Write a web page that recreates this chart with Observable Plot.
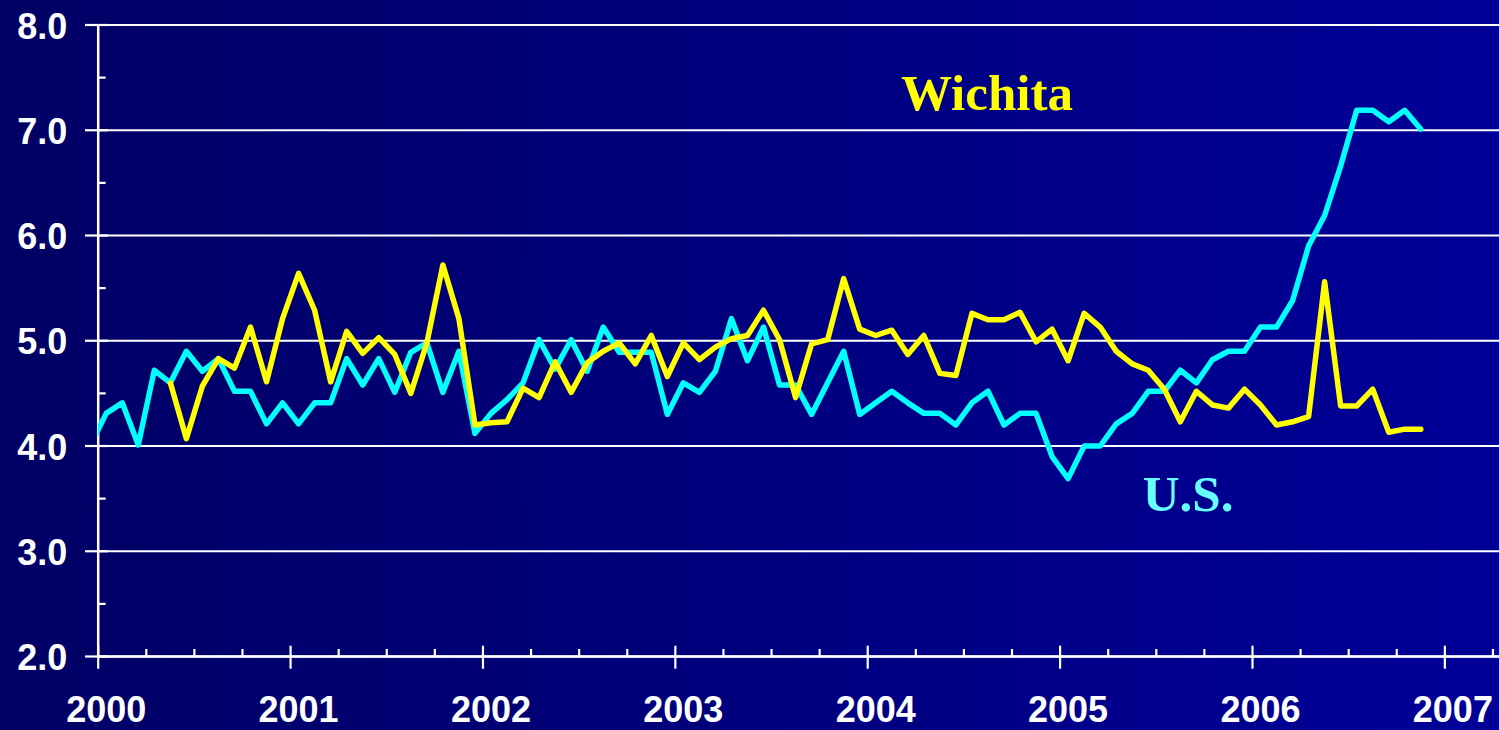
<!DOCTYPE html>
<html><head><meta charset="utf-8">
<script src="https://cdn.jsdelivr.net/npm/d3@7"></script>
<script src="https://cdn.jsdelivr.net/npm/@observablehq/plot@0.6"></script>
<style>
html,body{margin:0;padding:0;}
body{width:1499px;height:730px;overflow:hidden;background:linear-gradient(to right,#000064,#000098);}
#chart svg{display:block;}
</style></head><body><div id="chart"></div>
<script>
// Monthly series
const usFirst = {year: 1999, month: 11};      // Dec 1999 (0-based month)
const usValues = [4.00,
  4.31,4.41,4.01,4.72,4.60,4.90,4.71,4.83,4.52,4.52,4.21,4.41,
  4.21,4.41,4.41,4.83,4.58,4.83,4.51,4.89,4.98,4.51,4.90,4.12,
  4.31,4.44,4.60,5.01,4.73,5.01,4.71,5.13,4.89,4.89,4.89,4.30,
  4.60,4.51,4.71,5.21,4.81,5.13,4.58,4.58,4.30,4.60,4.90,4.30,
  4.41,4.52,4.41,4.31,4.31,4.20,4.41,4.52,4.20,4.31,4.31,3.90,
  3.69,4.00,4.00,4.21,4.31,4.52,4.52,4.72,4.60,4.82,4.90,4.90,
  5.13,5.13,5.38,5.90,6.19,6.66,7.19,7.19,7.08,7.19,7.01];
const wichitaFirst = {year: 2000, month: 4};  // May 2000
const wichitaValues = [4.60,4.07,4.57,4.83,4.74,5.13,4.61,5.21,
  5.64,5.29,4.61,5.09,4.88,5.03,4.87,4.50,4.98,5.72,5.21,4.20,
  4.22,4.23,4.55,4.46,4.80,4.51,4.79,4.90,4.98,4.78,5.05,4.66,
  4.98,4.82,4.94,5.02,5.05,5.29,5.01,4.46,4.97,5.01,5.59,5.11,
  5.05,5.10,4.87,5.05,4.69,4.67,5.26,5.20,5.20,5.27,4.99,5.11,
  4.81,5.26,5.13,4.90,4.78,4.72,4.54,4.23,4.52,4.39,4.36,4.54,
  4.39,4.20,4.23,4.28,5.56,4.38,4.38,4.54,4.13,4.16,4.16];

const xMajor = [2000,2001,2002,2003,2004,2005,2006,2007];
const xMinor = d3.range(2000, 2007.3, 0.25).filter(d => d % 1 !== 0);
const yMajor = [2,3,4,5,6,7,8];
const yMinor = [2.5,3.5,4.5,5.5,6.5,7.5];
const xDomain = [2000, 2007.284];
const yDomain = [2, 8];

const seriesLabels = [
  {name: "Wichita", x: 2004.62, y: 7.19, color: "#ffff00"},
  {name: "U.S.", x: 2005.665, y: 3.387, color: "#66ffff"}
];

const toRows = (first, values) => values.map((v, i) => {
  const m = first.month + i;
  return {x: first.year + (m + 0.5) / 12, v};
});
const usRows = toRows(usFirst, usValues);
const wiRows = toRows(wichitaFirst, wichitaValues);

const font = "'Liberation Sans', Arial, sans-serif";
const chart = Plot.plot({
  width: 1499, height: 730,
  marginLeft: 97.7, marginRight: 0, marginTop: 24.5, marginBottom: 74,
  style: {background: "transparent", color: "white", fontFamily: font},
  x: {domain: xDomain, label: null},
  y: {domain: yDomain, label: null},
  marks: [
    Plot.gridY(yMajor, {stroke: "white", strokeOpacity: 1, strokeWidth: 2.2}),
    Plot.ruleX([xDomain[0]], {stroke: "white", strokeWidth: 2.5}),
    Plot.ruleY([yDomain[0]], {stroke: "white", strokeWidth: 2.5}),
    Plot.axisY({ticks: yMajor, tickSize: 23, dx: 10.3, text: null, stroke: "white", strokeWidth: 2.2, label: null}),
    Plot.axisY({ticks: yMinor, tickSize: 8, dx: 8, text: null, stroke: "white", strokeWidth: 2.2, label: null}),
    Plot.axisY({ticks: yMajor, tickSize: 0, tickPadding: 31, tickFormat: d3.format(".1f"),
      fontSize: 36, fontWeight: "bold", fill: "white", dy: 2, label: null}),
    Plot.axisX({ticks: xMajor, tickSize: 23, dy: -10.3, text: null, stroke: "white", strokeWidth: 2.2, label: null}),
    Plot.axisX({ticks: xMinor, tickSize: 7, dy: -7, text: null, stroke: "white", strokeWidth: 2.2, label: null}),
    Plot.axisX({ticks: xMajor, tickSize: 0, tickPadding: 40, tickFormat: d => String(d),
      fontSize: 36, fontWeight: "bold", fill: "white", dx: 8, label: null}),
    Plot.line(usRows, {x: "x", y: "v", stroke: "#00ffff", strokeWidth: 5.5, clip: true}),
    Plot.line(wiRows, {x: "x", y: "v", stroke: "#ffff00", strokeWidth: 5.5, clip: true}),
    Plot.text(seriesLabels, {x: "x", y: "y", text: "name", fill: "color", fontSize: 51,
      fontWeight: "bold", fontFamily: "'Liberation Serif', 'Times New Roman', serif",
      textAnchor: "middle", lineAnchor: "bottom"})
  ]
});
document.getElementById("chart").appendChild(chart);
</script>
</body></html>
